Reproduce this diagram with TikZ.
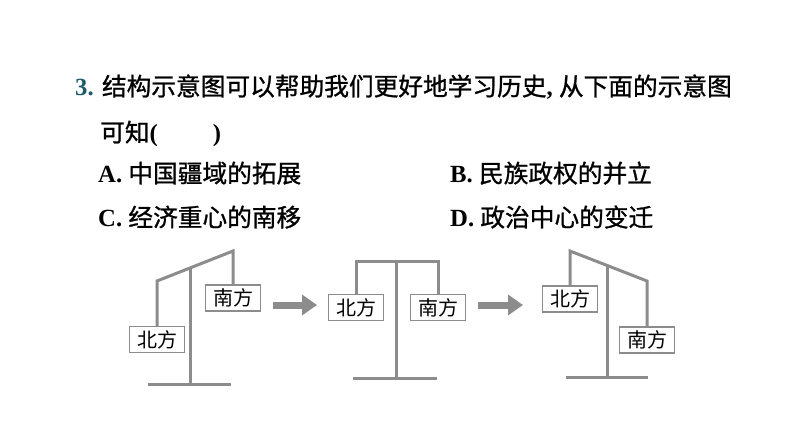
\documentclass[tikz,border=0pt]{standalone}
\usepackage{fontspec}
\setmainfont{Liberation Serif}
\newfontfamily\cjk{Noto Sans CJK SC}
\newfontfamily\cjkq[FakeBold=1]{Noto Sans CJK SC}
\usepackage{tikz}
\usetikzlibrary{arrows.meta}
\definecolor{qnum}{RGB}{28,92,104}
\definecolor{beamgray}{RGB}{140,140,140}

\begin{document}
\begin{tikzpicture}[x=1pt, y=-1pt,
        beam/.style={draw=beamgray, line width=3pt},
        sidebox/.style={draw=beamgray, line width=1.3pt, fill=white, minimum width=55pt, minimum height=26pt, inner sep=0pt, font=\cjk\fontsize{20}{20}\selectfont},
        qtext/.style={anchor=base west, inner sep=0pt, font=\fontsize{24.7}{25}\selectfont},
        movearrow/.style={draw=beamgray, line width=7pt, -{Triangle[length=15pt,width=20pt]}}]
        \useasboundingbox (0,0) rectangle (794,447);

        % Question
        \node[qtext] (q1) at (75,95.5) {\textbf{\textcolor{qnum}{3.}} {\cjkq 结构示意图可以帮助我们更好地学习历史}\textbf{,} {\cjkq 从下面的示意图}};
        \node[qtext] (q2) at (100,141.5) {{\cjkq 可知}\textbf{(}\hspace{55pt}\textbf{)}};

        % Options
        \node[qtext] (optA) at (98,182.5) {\textbf{A.} {\cjkq 中国疆域的拓展}};
        \node[qtext] (optB) at (450,182.5) {\textbf{B.} {\cjkq 民族政权的并立}};
        \node[qtext] (optC) at (98,226.5) {\textbf{C.} {\cjkq 经济重心的南移}};
        \node[qtext] (optD) at (450,226.5) {\textbf{D.} {\cjkq 政治中心的变迁}};

        % Balance 1
        \coordinate (l1) at (157,281);
        \coordinate (r1) at (233,251);
        \coordinate (top1) at (190,268);
        \coordinate (bot1) at (190,384);
        \coordinate (bl1) at (148,384);
        \coordinate (br1) at (231,384);
        \node[sidebox] (nor1) at (157,339.5) {北方};
        \node[sidebox] (sou1) at (233,298) {南方};
        \draw[beam] (nor1) -- (l1) -- (r1) -- (sou1);
        \draw[beam] (top1) -- (bot1);
        \draw[beam] (bl1) -- (br1);

        % Balance 2
        \coordinate (l2) at (356,261);
        \coordinate (r2) at (438,261);
        \coordinate (top2) at (396,261);
        \coordinate (bot2) at (396,378);
        \coordinate (bl2) at (353,378);
        \coordinate (br2) at (437,378);
        \node[sidebox] (nor2) at (356,307.5) {北方};
        \node[sidebox] (sou2) at (438,307.5) {南方};
        \draw[beam] (nor2) -- (l2) -- (r2) -- (sou2);
        \draw[beam] (top2) -- (bot2);
        \draw[beam] (bl2) -- (br2);

        % Balance 3
        \coordinate (l3) at (570,251);
        \coordinate (r3) at (647,281);
        \coordinate (top3) at (607,265.4);
        \coordinate (bot3) at (607,377);
        \coordinate (bl3) at (566,377);
        \coordinate (br3) at (648,377);
        \node[sidebox] (nor3) at (570,299) {北方};
        \node[sidebox] (sou3) at (647,340) {南方};
        \draw[beam] (nor3) -- (l3) -- (r3) -- (sou3);
        \draw[beam] (top3) -- (bot3);
        \draw[beam] (bl3) -- (br3);

        % Arrows
        \coordinate (a1s) at (273,305);
        \coordinate (a1e) at (317,305);
        \coordinate (a2s) at (478,305);
        \coordinate (a2e) at (523,305);
        \draw[movearrow] (a1s) -- (a1e);
        \draw[movearrow] (a2s) -- (a2e);

\end{tikzpicture}
\end{document}
